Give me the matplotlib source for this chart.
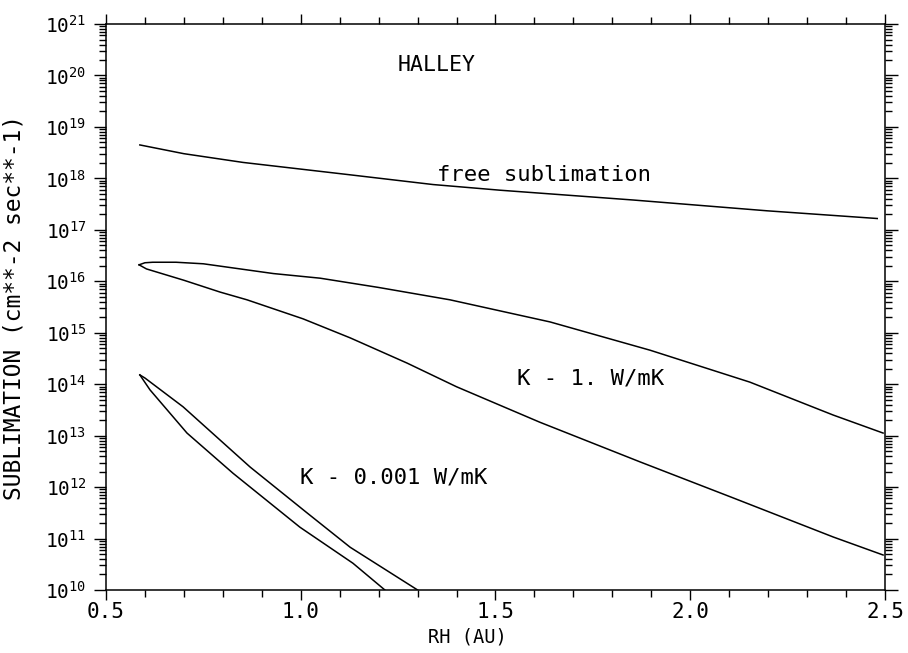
import numpy as np
import matplotlib
matplotlib.use("Agg")
import matplotlib.pyplot as plt
from matplotlib.ticker import MultipleLocator, LogLocator, NullFormatter, FixedLocator

# free sublimation curve (RH in AU, log10 of rate)
free_rh = [0.587, 0.70, 0.852, 1.126, 1.34, 1.512, 1.853, 2.197, 2.48]
free_log = [18.65, 18.48, 18.31, 18.07, 17.88, 17.77, 17.58, 17.37, 17.22]

# K = 1 W/mK, upper and lower branches meeting at the tip
k1_up_rh = [0.585, 0.60, 0.62, 0.68, 0.75, 0.93, 1.05, 1.20, 1.383, 1.64, 1.897, 2.153, 2.367, 2.495]
k1_up_log = [16.32, 16.36, 16.37, 16.37, 16.34, 16.15, 16.06, 15.88, 15.64, 15.21, 14.66, 14.04, 13.40, 13.05]
k1_lo_rh = [0.585, 0.604, 0.70, 0.793, 0.862, 1.006, 1.127, 1.273, 1.40, 1.614, 1.871, 2.11, 2.367, 2.495]
k1_lo_log = [16.32, 16.24, 16.02, 15.79, 15.64, 15.27, 14.90, 14.41, 13.95, 13.26, 12.49, 11.79, 11.03, 10.68]

# K = 0.001 W/mK
k3_up_rh = [0.587, 0.60, 0.698, 0.87, 1.016, 1.127, 1.30]
k3_up_log = [14.18, 14.12, 13.56, 12.39, 11.50, 10.83, 10.0]
k3_lo_rh = [0.587, 0.613, 0.708, 0.826, 0.998, 1.134, 1.216]
k3_lo_log = [14.18, 13.89, 13.05, 12.27, 11.22, 10.52, 10.0]

mono = "DejaVu Sans Mono"
plt.rcParams['font.family'] = mono
plt.rcParams['mathtext.fontset'] = 'custom'
plt.rcParams['mathtext.rm'] = mono
plt.rcParams['mathtext.it'] = mono

fig = plt.figure(figsize=(9.08, 6.53), dpi=100)
ax = fig.add_axes([0.1167, 0.0965, 0.858, 0.8667])

def draw(rh, lg):
    ax.plot(rh, 10.0 ** np.array(lg), color='black', lw=1.1)

draw(free_rh, free_log)
draw(k1_up_rh, k1_up_log)
draw(k1_lo_rh, k1_lo_log)
draw(k3_up_rh, k3_up_log)
draw(k3_lo_rh, k3_lo_log)

ax.set_yscale('log')
ax.set_xlim(0.5, 2.5)
ax.set_ylim(1e10, 1e21)

ax.xaxis.set_major_locator(MultipleLocator(0.5))
ax.xaxis.set_minor_locator(MultipleLocator(0.1))
ax.xaxis.set_major_formatter(matplotlib.ticker.FormatStrFormatter('%.1f'))
ax.yaxis.set_major_locator(FixedLocator([10.0 ** e for e in range(10, 22)]))
ax.yaxis.set_minor_locator(LogLocator(base=10, subs=np.arange(2, 10), numticks=20))
ax.yaxis.set_minor_formatter(NullFormatter())
ax.set_yticklabels([r'$\mathrm{10}^{\mathrm{%d}}$' % e for e in range(10, 22)])

ax.tick_params(which='both', direction='out', top=True, right=True, width=1.0)
ax.tick_params(which='major', length=9)
ax.tick_params(which='minor', length=5)
ax.tick_params(axis='x', which='major', length=7)
ax.tick_params(axis='x', labelsize=15, pad=2)
ax.tick_params(axis='y', labelsize=14, pad=5)
for s in ax.spines.values():
    s.set_linewidth(1.1)

ax.set_xlabel('RH (AU)', fontsize=13.5)
ax.xaxis.set_label_coords(0.4634, -0.067)
ax.set_ylabel('SUBLIMATION (cm**-2 sec**-1)', fontsize=16.5)
ax.yaxis.set_label_coords(-0.1027, 0.5)

ax.text(1.25, 10 ** 20.2, 'HALLEY', fontsize=15.5, va='center')
ax.text(1.35, 10 ** 18.07, 'free sublimation', fontsize=16, va='center')
ax.text(1.555, 10 ** 14.12, 'K - 1. W/mK', fontsize=16, va='center')
ax.text(0.998, 10 ** 12.18, 'K - 0.001 W/mK', fontsize=16, va='center')

fig.savefig('out.png', dpi=100)
